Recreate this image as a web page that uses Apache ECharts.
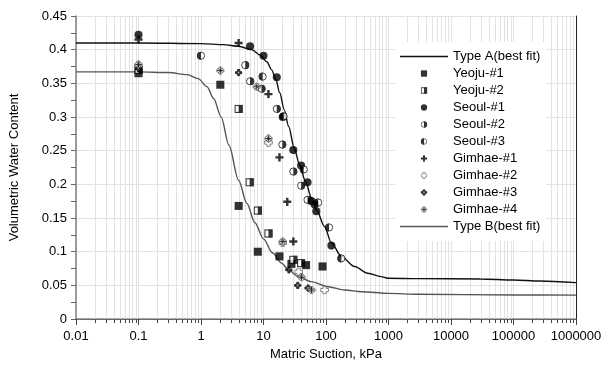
<!DOCTYPE html>
<html>
<head>
<meta charset="utf-8">
<script src="https://cdn.jsdelivr.net/npm/echarts@6/dist/echarts.min.js"></script>
<style>
  html, body { margin: 0; padding: 0; background: #fff; }
  #chart { width: 605px; height: 366px; }
</style>
</head>
<body>
<div id="chart"></div>
<script>
// Axis tick labels
const xTickLabels = ['0.01', '0.1', '1', '10', '100', '1000', '10000', '100000', '1000000'];
const yTickLabels = ['0', '0.05', '0.1', '0.15', '0.2', '0.25', '0.3', '0.35', '0.4', '0.45'];

// Best-fit curves: [matric suction (kPa), volumetric water content]
const typeA = [
  [0.01, 0.410], [0.1, 0.410], [1.0, 0.409], [2.3, 0.4075], [4.0, 0.405], [6.5, 0.400],
  [8.8, 0.392], [11.3, 0.382], [13.5, 0.370], [15.7, 0.356], [18.2, 0.336], [21.4, 0.311],
  [25.3, 0.286], [30.9, 0.254], [37.8, 0.229], [47, 0.204], [58.6, 0.180], [70.3, 0.162],
  [95, 0.137], [122, 0.113], [176, 0.093], [286, 0.078], [467, 0.068], [760, 0.063],
  [970, 0.0605], [3000, 0.0600], [29500, 0.0595], [100000, 0.058], [263000, 0.0565], [1000000, 0.054]
];
const typeB = [
  [0.01, 0.367], [0.1, 0.367], [0.3, 0.366], [0.6, 0.363], [0.9, 0.357], [1.25, 0.345],
  [1.6, 0.327], [2.1, 0.300], [2.8, 0.258], [4.0, 0.206], [5.4, 0.172], [7.3, 0.143],
  [10, 0.119], [14, 0.098], [19.5, 0.083], [25, 0.073], [36, 0.063], [58, 0.0555],
  [108, 0.048], [200, 0.043], [370, 0.0405], [1000, 0.038], [3000, 0.0367],
  [100000, 0.0357], [1000000, 0.0355]
];

// Measured points per sample
const yeoju1 = [[0.1, 0.365], [2.04, 0.348], [4.0, 0.168], [8.1, 0.100], [18, 0.093], [28, 0.082], [48, 0.080], [88, 0.078]];
const yeoju2 = [[0.1, 0.370], [4.0, 0.312], [6.0, 0.203], [8.1, 0.161], [12, 0.127], [30, 0.088], [40, 0.083]];
const seoul1 = [[0.1, 0.422], [6.1, 0.405], [10, 0.391], [16.3, 0.359], [20.3, 0.300], [30, 0.251], [40, 0.228], [50.6, 0.203], [58.6, 0.175], [66, 0.170], [70, 0.160], [122, 0.109]];
const seoul2 = [[5.1, 0.377], [6.1, 0.353], [9.3, 0.342], [16.3, 0.312], [20, 0.259], [30, 0.219], [40, 0.198], [50.6, 0.177]];
const seoul3 = [[1.0, 0.391], [9.7, 0.360], [21, 0.301], [44, 0.222], [75, 0.173], [112, 0.136], [176, 0.090]];
const gimhae1 = [[0.1, 0.415], [4.0, 0.410], [12, 0.334], [18, 0.240], [24, 0.174], [30, 0.115]];
const gimhae2 = [[0.1, 0.375], [12, 0.262], [20.3, 0.113], [36.5, 0.070], [95, 0.043]];
const gimhae3 = [[0.1, 0.372], [4.0, 0.366], [25.5, 0.073], [35.3, 0.050], [51.7, 0.046]];
const gimhae4 = [[0.1, 0.378], [2.04, 0.369], [7.8, 0.345], [12, 0.268], [20.3, 0.115], [40.6, 0.062], [58.6, 0.043]];

// Marker glyphs as small SVG images
function svgSymbol(body) {
  const svg = "<svg xmlns='http://www.w3.org/2000/svg' width='40' height='40' viewBox='0 0 20 20'>" + body + "</svg>";
  return 'image://data:image/svg+xml;charset=utf-8,' + encodeURIComponent(svg);
}
const symbols = {
  yeoju1: svgSymbol("<rect x='1' y='1' width='18' height='18' fill='#000'/>"),
  yeoju2: svgSymbol("<rect x='2.2' y='2.2' width='15.6' height='15.6' fill='#fff' stroke='#000' stroke-width='2.4'/><rect x='10' y='1' width='9' height='18' fill='#000'/>"),
  seoul1: svgSymbol("<circle cx='10' cy='10' r='9' fill='#000'/>"),
  seoul2: svgSymbol("<circle cx='10' cy='10' r='8' fill='#fff' stroke='#000' stroke-width='2'/><path d='M10 1 A9 9 0 0 1 10 19 Z' fill='#000'/>"),
  seoul3: svgSymbol("<circle cx='10' cy='10' r='8' fill='#fff' stroke='#000' stroke-width='2'/><path d='M10 1 A9 9 0 0 0 10 19 Z' fill='#000'/>"),
  gimhae1: svgSymbol("<path d='M7.3 1h5.4v6.3h6.3v5.4h-6.3v6.3h-5.4v-6.3h-6.3v-5.4h6.3z' fill='#000'/>"),
  gimhae2: svgSymbol("<path d='M6.5 1.5h7v5h5v7h-5v5h-7v-5h-5v-7h5z' fill='#fff' stroke='#555' stroke-width='2'/>"),
  gimhae3: svgSymbol("<circle cx='10' cy='4.6' r='4.2' fill='#000'/><circle cx='15.4' cy='10' r='4.2' fill='#000'/><circle cx='10' cy='15.4' r='4.2' fill='#000'/><circle cx='4.6' cy='10' r='4.2' fill='#000'/>"),
  gimhae4: svgSymbol("<g fill='#fff' stroke='#333' stroke-width='1.8'><circle cx='10' cy='5.5' r='4'/><circle cx='14.5' cy='10' r='4'/><circle cx='10' cy='14.5' r='4'/><circle cx='5.5' cy='10' r='4'/></g><path d='M10 3v14M3 10h14' stroke='#000' stroke-width='2.2'/>")
};
// Plain line sample used for the fitted curves in the legend
const lineIcon = 'path://M0 0H48V1.4H0Z';

// Minor log-axis positions (2..9 within each decade)
const minorX = [];
for (let e = -2; e < 6; e++) {
  for (let m = 2; m <= 9; m++) minorX.push([+(m * Math.pow(10, e)).toPrecision(3), 0]);
}

const FONT = 'Liberation Sans, Arial, sans-serif';

function scatter(name, data, sym, size) {
  return {
    name: name, type: 'scatter', data: data, symbol: sym, symbolSize: size || 9,
    symbolKeepAspect: true, z: 4, itemStyle: { color: '#000' }, silent: true
  };
}

const chart = echarts.init(document.getElementById('chart'));
chart.setOption({
  animation: false,
  backgroundColor: '#fff',
  grid: { left: 73, right: 29, top: 16, bottom: 47, show: false },
  xAxis: [{
    type: 'log', logBase: 10, min: 0.01, max: 1000000, splitNumber: 8,
    name: 'Matric Suction, kPa', nameLocation: 'middle', nameGap: 28,
    nameTextStyle: { fontFamily: FONT, fontSize: 13, color: '#000' },
    axisLine: { show: true, lineStyle: { color: '#222', width: 1 } },
    axisTick: { show: true, length: 6, lineStyle: { color: '#444' } },
    axisLabel: {
      fontFamily: FONT, fontSize: 13, color: '#000', margin: 11,
      formatter: v => xTickLabels[Math.round(Math.log10(v)) + 2]
    },
    splitLine: { show: true, lineStyle: { color: '#e2e2e2', width: 1 } }
  }, {
    type: 'log', logBase: 10, min: 0.01, max: 1000000, position: 'top',
    axisLine: { show: true, lineStyle: { color: '#888', width: 1.5 } },
    axisTick: { show: false }, axisLabel: { show: false }, splitLine: { show: false }
  }],
  yAxis: [{
    type: 'value', min: 0, max: 0.45, interval: 0.05,
    name: 'Volumetric Water Content', nameLocation: 'middle', nameGap: 55,
    nameTextStyle: { fontFamily: FONT, fontSize: 13, color: '#000' },
    axisLine: { show: true, lineStyle: { color: '#808080', width: 1.5 } },
    axisTick: { show: true, length: 5, lineStyle: { color: '#666' } },
    minorTick: { show: true, splitNumber: 2, length: 5, lineStyle: { color: '#666' } },
    axisLabel: {
      fontFamily: FONT, fontSize: 13, color: '#000', margin: 9,
      formatter: v => yTickLabels[Math.round(v / 0.05)]
    },
    splitLine: { show: true, lineStyle: { color: '#e2e2e2', width: 1 } }
  }, {
    type: 'value', min: 0, max: 0.45, position: 'right',
    axisLine: { show: true, lineStyle: { color: '#222', width: 1 } },
    axisTick: { show: false }, axisLabel: { show: false }, splitLine: { show: false }
  }],
  legend: {
    orient: 'vertical', left: 395, top: 42,
    padding: [7, 6, 7, 5], backgroundColor: '#fff',
    itemWidth: 48, itemHeight: 7, itemGap: 2, symbolKeepAspect: true,
    textStyle: { fontFamily: FONT, fontSize: 13, color: '#000', lineHeight: 15 },
    data: [{ name: 'Type A(best fit)', icon: lineIcon }, 'Yeoju-#1', 'Yeoju-#2', 'Seoul-#1', 'Seoul-#2', 'Seoul-#3',
           'Gimhae-#1', 'Gimhae-#2', 'Gimhae-#3', 'Gimhae-#4', { name: 'Type B(best fit)', icon: lineIcon }]
  },
  series: [
    {
      // minor vertical grid lines and ticks on the log axis
      type: 'custom', data: minorX, z: 1, silent: true, clip: false,
      renderItem: function (params, api) {
        const top = api.coord([api.value(0), 0.45]);
        const bot = api.coord([api.value(0), 0]);
        const x = Math.round(top[0]) + 0.5;
        return {
          type: 'group', children: [
            { type: 'line', shape: { x1: x, y1: top[1], x2: x, y2: bot[1] }, style: { stroke: '#e2e2e2', lineWidth: 1 } },
            { type: 'line', shape: { x1: x, y1: bot[1], x2: x, y2: bot[1] + 4 }, style: { stroke: '#444', lineWidth: 1 } }
          ]
        };
      }
    },
    {
      name: 'Type A(best fit)', type: 'line', data: typeA, symbol: 'none', smooth: 0.3,
      smoothMonotone: 'x', z: 3, silent: true,
      lineStyle: { color: '#111', width: 1.4 }, itemStyle: { color: '#111' }
    },
    scatter('Yeoju-#1', yeoju1, symbols.yeoju1, 9),
    scatter('Yeoju-#2', yeoju2, symbols.yeoju2, 9),
    scatter('Seoul-#1', seoul1, symbols.seoul1, 9),
    scatter('Seoul-#2', seoul2, symbols.seoul2, 9),
    scatter('Seoul-#3', seoul3, symbols.seoul3, 9),
    scatter('Gimhae-#1', gimhae1, symbols.gimhae1, 9),
    scatter('Gimhae-#2', gimhae2, symbols.gimhae2, 9),
    scatter('Gimhae-#3', gimhae3, symbols.gimhae3, 8),
    scatter('Gimhae-#4', gimhae4, symbols.gimhae4, 9),
    {
      name: 'Type B(best fit)', type: 'line', data: typeB, symbol: 'none', smooth: 0.3,
      smoothMonotone: 'x', z: 3, silent: true,
      lineStyle: { color: '#555', width: 1.4 }, itemStyle: { color: '#555' }
    }
  ]
});
</script>
</body>
</html>
